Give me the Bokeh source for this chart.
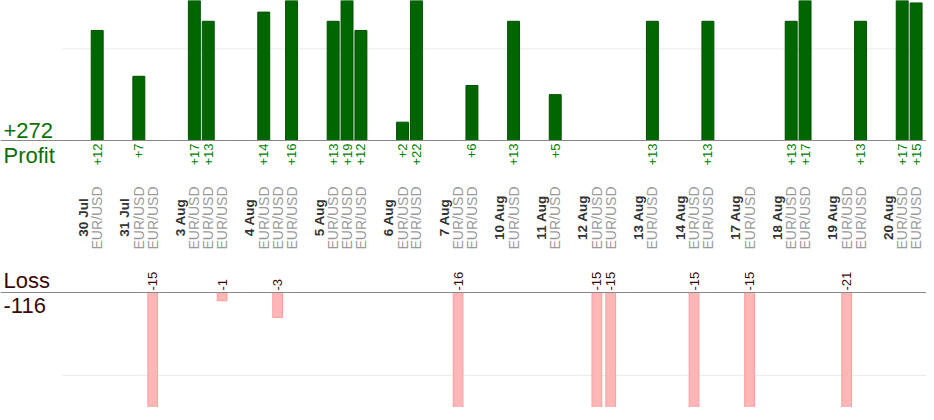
import math
from bokeh.plotting import figure
from bokeh.models import Range1d, Span
from bokeh.core.properties import value
from bokeh.embed import file_html
from bokeh.resources import INLINE

# ---- data ----
dates = ["30 Jul", "31 Jul", "3 Aug", "4 Aug", "5 Aug", "6 Aug", "7 Aug", "10 Aug",
         "11 Aug", "12 Aug", "13 Aug", "14 Aug", "17 Aug", "18 Aug", "19 Aug", "20 Aug"]
trades_per_date = [
    [12],
    [7, -15],
    [17, 13, -1],
    [14, -3, 16],
    [13, 19, 12],
    [2, 22],
    [-16, 6],
    [13],
    [5],
    [-15, -15],
    [13],
    [-15, 13],
    [-15],
    [13, 17],
    [-21, 13],
    [17, 15],
]
pair = "EUR/USD"
total_profit_label = "+272"
total_loss_label = "-116"

# ---- slot layout (one empty slot, date slot, trade slots) ----
date_slots, trade_slots, trade_vals = [], [], []
s = -2
for d, trades in zip(dates, trades_per_date):
    s += 1
    date_slots.append(s)
    for t in trades:
        s += 1
        trade_slots.append(s)
        trade_vals.append(t)
    s += 1

prof_x = [x for x, v in zip(trade_slots, trade_vals) if v > 0]
prof_v = [v for v in trade_vals if v > 0]
loss_x = [x for x, v in zip(trade_slots, trade_vals) if v < 0]
loss_v = [v for v in trade_vals if v < 0]

# ---- geometry ----
W, H = 926, 407
TOP = 0
gl = -2.5
x_end = trade_slots[-1] + 0.75
slot_px = (W - 62) / (x_end - gl)
x_start = x_end - W / slot_px

prof_base, prof_px = 140, 9.17   # y of baseline, px per unit
loss_base, loss_px = 292, 8.3

def pv(py):
    return (prof_base - py) / prof_px

def lv(py):
    return (loss_base - py) / loss_px

p = figure(width=W, height=H, output_backend="svg", toolbar_location=None,
           x_range=Range1d(x_start, x_end),
           y_range=Range1d(pv(TOP + H), pv(TOP)),
           x_axis_location=None, y_axis_location=None,
           min_border=0, outline_line_color=None)
p.grid.visible = False
p.extra_y_ranges = {"loss": Range1d(lv(TOP + H), lv(TOP))}

font = value("Liberation Sans")
# gridlines
p.segment(x0=[gl], x1=[x_end], y0=[10], y1=[10], line_color="#ebebeb", line_width=1)
p.segment(x0=[gl], x1=[x_end], y0=[-10], y1=[-10], line_color="#ebebeb", line_width=1,
          y_range_name="loss")

# bars
p.vbar(x=prof_x, top=prof_v, bottom=0, width=0.86,
       fill_color="#006600", line_color="#005200", line_width=1)
p.vbar(x=loss_x, top=0, bottom=loss_v, width=0.7,
       fill_color="#ffb6b6", line_color="#ff9c9c", line_width=1, y_range_name="loss")

# baselines
p.add_layout(Span(location=0, dimension="width", line_color="#888888", line_width=1.2))
p.add_layout(Span(location=0, dimension="width", line_color="#888888", line_width=1.2,
                  y_range_name="loss"))

# profit value labels
p.text(x=prof_x, y=[pv(143)] * len(prof_x), text=["+%d" % v for v in prof_v],
       angle=math.pi / 2, text_align="right", text_baseline="middle",
       text_font=font, text_font_size="13px", text_color="#008000")

# loss value labels
p.text(x=loss_x, y=[lv(290)] * len(loss_x), text=["%d" % v for v in loss_v],
       angle=math.pi / 2, text_align="left", text_baseline="middle",
       text_font=font, text_font_size="13px", text_color="#3a0808", y_range_name="loss")

# date labels
p.text(x=date_slots, y=[pv(217)] * len(date_slots), text=dates,
       angle=math.pi / 2, text_align="center", text_baseline="middle",
       text_font=font, text_font_size="13.5px", text_font_style="bold", text_color="#333333")

# pair labels
p.text(x=trade_slots, y=[pv(217.5)] * len(trade_slots), text=[pair] * len(trade_slots),
       angle=math.pi / 2, text_align="center", text_baseline="middle",
       text_font=font, text_font_size="14px", text_color="#9a9a9a")

# totals
lx = x_start + 3 / slot_px
dy = 8
p.text(x=[lx], y=[pv(137.7 - dy)], text=[total_profit_label], text_align="left",
       text_baseline="alphabetic", text_font=font, text_font_size="22px", text_color="#0a700a")
p.text(x=[lx], y=[pv(163 - dy)], text=["Profit"], text_align="left",
       text_baseline="alphabetic", text_font=font, text_font_size="22px", text_color="#0a700a")
p.text(x=[lx], y=[lv(288.3 - dy)], text=["Loss"], text_align="left",
       text_baseline="alphabetic", text_font=font, text_font_size="22px", text_color="#3a0808",
       y_range_name="loss")
p.text(x=[lx], y=[lv(313.3 - dy)], text=[total_loss_label], text_align="left",
       text_baseline="alphabetic", text_font=font, text_font_size="22px", text_color="#3a0808",
       y_range_name="loss")

open("out.html", "w").write(file_html(p, INLINE))
